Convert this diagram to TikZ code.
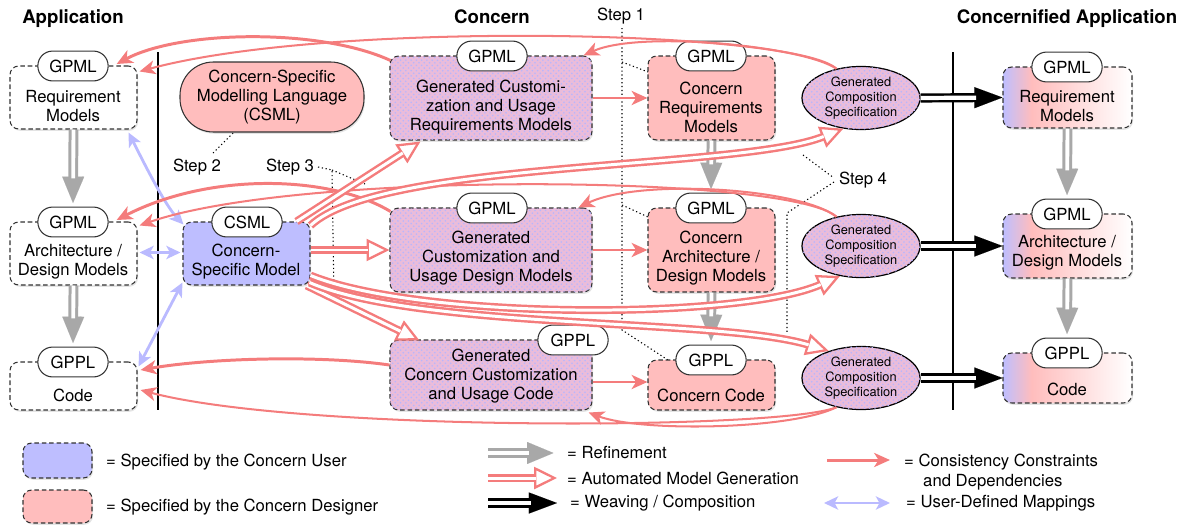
\documentclass[tikz,border=0pt]{standalone}
\usepackage{fontspec}
\setmainfont{TeX Gyre Heros}
\usetikzlibrary{arrows.meta,shapes.geometric,shadows,calc,patterns}
\definecolor{salR}{RGB}{244,124,124}
\definecolor{pinkF}{RGB}{255,189,189}
\definecolor{blueF}{RGB}{190,190,255}
\definecolor{mixC}{RGB}{234,188,218}
\definecolor{dotC}{RGB}{182,182,255}
\definecolor{lavC}{RGB}{186,186,255}
\definecolor{grayR}{RGB}{168,168,168}
\definecolor{edgeC}{RGB}{50,50,50}
\pgfdeclarehorizontalshading{concernified}{100bp}{color(0bp)=(blueF); color(25bp)=(blueF); color(36bp)=(pinkF); color(75bp)=(white); color(100bp)=(white)}
\newcommand\genarr[1]{\draw[genhead] #1; \draw[genshaft] #1;}
\newcommand\refarr[1]{\draw[refhead] #1; \draw[refshaft] #1;}
\newcommand\weavearr[1]{\draw[weavehead] #1; \draw[weaveshaft] #1;}
\begin{document}
\begin{tikzpicture}[x=0.02cm, y=-0.02cm, font=\fontsize{9.5}{10.8}\selectfont,
  sz/.style 2 args={minimum width=#1*0.02cm, minimum height=#2*0.02cm},
  box/.style={draw=edgeC, dash pattern=on 2.6pt off 1.6pt, line width=0.6pt, rounded corners=5pt, inner sep=0pt,
    drop shadow={shadow xshift=0.6pt, shadow yshift=-1pt, opacity=0.22}},
  whitebox/.style={box, fill=white},
  userbox/.style={box, fill=blueF},
  desbox/.style={box, fill=pinkF},
  mottled/.style={fill=mixC, postaction={pattern=crosshatch dots, pattern color=dotC}},
  genbox/.style={box, mottled},
  concbox/.style={box, shading=concernified},
  tag/.style={draw=edgeC, fill=white, line width=0.6pt, rounded corners=8.4pt, minimum width=40pt, minimum height=17pt, inner sep=0pt},
  txt/.style={align=center, inner sep=0pt},
  ell/.style={ellipse, draw=black, line width=0.7pt, mottled, minimum width=118*0.02cm, minimum height=63*0.02cm,
    inner sep=0pt, align=center, font=\fontsize{7.3}{8.5}\selectfont},
  hdr/.style={font=\fontsize{10.6}{12}\selectfont\bfseries},
  cons/.style={draw=salR, line width=1.7pt, -{Stealth[length=9pt,width=8pt,inset=2.5pt]}},
  consthin/.style={cons, line width=1.15pt},
  map/.style={draw=lavC, line width=1.6pt, {Stealth[length=8pt,width=7.5pt,inset=2pt]}-{Stealth[length=8pt,width=7.5pt,inset=2pt]}},
  genhead/.style={draw=white, line width=0.01pt, -{Triangle[length=13pt,width=12.5pt,color=salR,fill=white,line width=1.3pt]}},
  genshaft/.style={draw=salR, line width=1.4pt, double=white, double distance=1.7pt, shorten >=12pt},
  refhead/.style={draw=white, line width=0.01pt, shorten >=2pt, -{Triangle[length=15pt,width=12.5pt,color=grayR]}},
  refshaft/.style={draw=grayR, line width=1.7pt, double=white, double distance=2.2pt, shorten >=16pt},
  weavehead/.style={draw=white, line width=0.01pt, -{Triangle[length=16pt,width=12pt,color=black]}},
  weaveshaft/.style={draw=black, line width=1.4pt, double=white, double distance=2.4pt, shorten >=15pt},
  dots/.style={draw=black, line width=0.6pt, dash pattern=on 0.7pt off 1.5pt}
]
\useasboundingbox (0,0) rectangle (1186,524);

% headers and step labels
\node[hdr] (hApp) at (73,19) {Application};
\node[hdr] (hCon) at (492,17) {Concern};
\node[hdr] (hCApp) at (1067,19) {Concernified Application};
\node (s1) at (621,16) {Step 1};
\node (s2) at (197,167) {Step 2};
\node (s3) at (290,167) {Step 3};
\node (s4) at (863,180) {Step 4};

% dotted brackets
\coordinate (s1top) at (622,28); \coordinate (s1bot) at (622,330);
\coordinate (s1a) at (622,62); \coordinate (s1ae) at (648,72);
\coordinate (s1b) at (622,205); \coordinate (s1be) at (648,217);
\coordinate (s1ce) at (668,360);
\draw[dots] (s1top) -- (s1bot) -- (s1ce);
\draw[dots] (s1a) -- (s1ae);
\draw[dots] (s1b) -- (s1be);
\coordinate (s2a) at (213,153); \coordinate (s2b) at (233,133);
\draw[dots] (s2a) -- (s2b);
\coordinate (s3a) at (318,167); \coordinate (s3b) at (332,170); \coordinate (s3c) at (334,297); \coordinate (s3d) at (365,184);
\draw[dots] (s3a) -- (s3b) -- (s3c);
\draw[dots] (s3b) -- (s3d);
\coordinate (s4a) at (803,155); \coordinate (s4b) at (834,178); \coordinate (s4c) at (834,182);
\coordinate (s4d) at (787,213); \coordinate (s4e) at (787,333);
\draw[dots] (s4a) -- (s4b);
\draw[dots] (s4c) -- (s4d) -- (s4e);

% vertical separators
\coordinate (vl1t) at (158,52); \coordinate (vl1b) at (158,410);
\coordinate (vl2t) at (953,52); \coordinate (vl2b) at (953,410);
\draw[line width=1.1pt] (vl1t) -- (vl1b);
\draw[line width=1.1pt] (vl2t) -- (vl2b);

% application column
\node[whitebox, sz={127}{63}] (reqL) at (73.5,97.5) {};
\node[txt] (reqLt) at (73,106) {Requirement\\Models};
\node[whitebox, sz={127}{63}] (archL) at (73.5,253.5) {};
\node[txt] (archLt) at (73,262) {Architecture /\\Design Models};
\node[whitebox, sz={127}{48}] (codeL) at (73.5,386) {};
\node[txt] (codeLt) at (73,395) {Code};

% CSML and CSM
\node[draw=edgeC, line width=0.6pt, fill=pinkF, rounded corners=19pt, sz={184}{70}, txt,
  drop shadow={shadow xshift=0.6pt, shadow yshift=-1pt, opacity=0.22}] (csml) at (272,97)
  {Concern-Specific\\Modelling Language\\(CSML)};
\node[userbox, sz={127}{63}] (csm) at (246.5,253.5) {};
\node[txt] (csmt) at (246,262) {Concern-\\Specific Model};

% concern column
\node[genbox, sz={202}{84}] (genReq) at (491,98) {};
\node[txt] (genReqt) at (491,107) {Generated Customi-\\zation and Usage\\Requirements Models};
\node[desbox, sz={127}{84}] (conReq) at (711.5,98) {};
\node[txt] (conReqt) at (711,107) {Concern\\Requirements\\Models};
\node[genbox, sz={202}{84}] (genDes) at (491,250) {};
\node[txt] (genDest) at (491,258) {Generated\\Customization and\\Usage Design Models};
\node[desbox, sz={127}{84}] (conArch) at (711.5,250) {};
\node[txt] (conArcht) at (711,258) {Concern\\Architecture /\\Design Models};
\node[genbox, sz={202}{70}] (genCode) at (491,375) {};
\node[txt] (genCodet) at (491,376) {Generated\\Concern Customization\\and Usage Code};
\node[desbox, sz={127}{50}] (conCode) at (711.5,385) {};
\node[txt] (conCodet) at (711,395) {Concern Code};

% composition specifications
\node[ell] (ell1) at (861,98) {Generated\\Composition\\Specification};
\node[ell] (ell2) at (861,246) {Generated\\Composition\\Specification};
\node[ell] (ell3) at (861,378) {Generated\\Composition\\Specification};

% concernified column
\node[concbox, sz={129}{61}] (reqR) at (1067.5,97.5) {};
\node[txt] (reqRt) at (1067,106) {Requirement\\Models};
\node[concbox, sz={129}{64}] (archR) at (1067.5,246) {};
\node[txt] (archRt) at (1067,253) {Architecture /\\Design Models};
\node[concbox, sz={129}{50}] (codeR) at (1067.5,378) {};
\node[txt] (codeRt) at (1067,389) {Code};

% tags
\node[tag] (tReqL) at (73,66) {GPML};
\node[tag] (tArchL) at (73,222) {GPML};
\node[tag] (tCodeL) at (73,362) {GPPL};
\node[tag] (tCsm) at (247,222) {CSML};
\node[tag] (tGenReq) at (492,56) {GPML};
\node[tag] (tConReq) at (711,56) {GPML};
\node[tag] (tGenDes) at (492,208) {GPML};
\node[tag] (tConArch) at (711,208) {GPML};
\node[tag] (tGenCode) at (573,340) {GPPL};
\node[tag] (tConCode) at (711,360) {GPPL};
\node[tag] (tReqR) at (1067,67) {GPML};
\node[tag] (tArchR) at (1067,214) {GPML};
\node[tag] (tCodeR) at (1067,353) {GPPL};

% user-defined mappings
\draw[map] ($(reqL.south east)+(-9,3)$) .. controls (145,165) and (165,205) .. ($(csm.north west)+(1,3)$);
\draw[map] ($(archL.east)+(2,-1)$) -- ($(csm.west)+(-2,-1)$);
\draw[map] ($(codeL.north east)+(1,5)$) -- ($(csm.south west)+(0,-3)$);

% refinement
\refarr{(reqL.south) -- (tArchL.north)}
\refarr{(archL.south) -- (tCodeL.north)}
\refarr{(conReq.south) -- (tConArch.north)}
\refarr{(conArch.south) -- (tConCode.north)}
\refarr{(reqR.south) -- (tArchR.north)}
\refarr{(archR.south) -- (tCodeR.north)}

% weaving / composition
\weavearr{(ell1.east) -- (reqR.west)}
\weavearr{(ell2.east) -- (archR.west)}
\weavearr{(ell3.east) -- (codeR.west)}

% consistency constraints
\draw[cons] (genReq.east) -- (conReq.west);
\draw[cons] (genDes.east) -- (conArch.west);
\draw[cons] ($(genCode.east)+(0,7)$) -- ($(conCode.west)+(0,-3)$);
\draw[cons] ($(genReq.north west)+(1,5)$) .. controls (320,28) and (180,30) .. ($(tReqL.east)+(8,-2)$);
\draw[consthin] (ell1.130) .. controls (795,30) and (330,20) .. ($(reqL.north east)+(2,6)$);
\draw[consthin] (ell1.130) .. controls (803,46) and (640,30) .. ($(genReq.north east)+(-9,0)$);
\draw[cons] ($(genDes.north west)+(1,4)$) .. controls (330,175) and (210,172) .. ($(tArchL.east)+(8,-2)$);
\draw[consthin] (ell2.130) .. controls (790,175) and (300,170) .. ($(archL.north east)+(2,4)$);
\draw[consthin] (ell2.130) .. controls (800,188) and (640,178) .. ($(genDes.north east)+(-14,0)$);
\draw[cons] ($(genCode.west)+(0,-10)$) .. controls (320,355) and (210,358) .. ($(codeL.east)+(3,-16)$);
\draw[consthin] (ell3.230) .. controls (780,430) and (300,432) .. ($(codeL.east)+(3,4)$);
\draw[consthin] (ell3.230) .. controls (790,430) and (640,432) .. ($(genCode.south east)+(-4,2)$);

% automated model generation
\genarr{($(csm.north east)+(-14,0)$) -- ($(genReq.south west)+(31,1)$)}
\genarr{(csm.east |- genDes.west) -- (genDes.west)}
\genarr{($(csm.south east)+(-4,0)$) -- ($(genCode.north west)+(30,1)$)}
\genarr{($(csm.north east)+(0,4)$) .. controls (380,160) and (740,170) .. (ell1.240)}
\genarr{($(csm.east)+(0,22)$) .. controls (420,320) and (740,320) .. (ell2.235)}
\genarr{($(csm.south east)+(-1,-3)$) .. controls (420,330) and (720,318) .. (ell3.140)}

% legend
\node[userbox, sz={69}{35}] (lgU) at (57.5,460.5) {};
\node[anchor=west] (lgUt) at (100,462) {= Specified by the Concern User};
\node[desbox, sz={69}{33}] (lgD) at (57.5,506.5) {};
\node[anchor=west] (lgDt) at (100,507) {= Specified by the Concern Designer};

\coordinate (lr1) at (488,453); \coordinate (lr2) at (557,453);
\coordinate (la1) at (488,478); \coordinate (la2) at (557,478);
\coordinate (lw1) at (488,503); \coordinate (lw2) at (557,503);
\refarr{(lr1) -- (lr2)}
\genarr{(la1) -- (la2)}
\weavearr{(lw1) -- (lw2)}
\node[anchor=west] (lrt) at (561,453) {= Refinement};
\node[anchor=west] (lat) at (561,478) {= Automated Model Generation};
\node[anchor=west] (lwt) at (564,503) {= Weaving / Composition};

\coordinate (lc1) at (827,460); \coordinate (lc2) at (890,460);
\coordinate (lm1) at (824,503); \coordinate (lm2) at (890,503);
\draw[cons] (lc1) -- (lc2);
\draw[map] (lm1) -- (lm2);
\node[anchor=west] (lct) at (898,462) {= Consistency Constraints};
\node[anchor=west] (lct2) at (917,482) {and Dependencies};
\node[anchor=west] (lmt) at (900,503) {= User-Defined Mappings};
\end{tikzpicture}
\end{document}
